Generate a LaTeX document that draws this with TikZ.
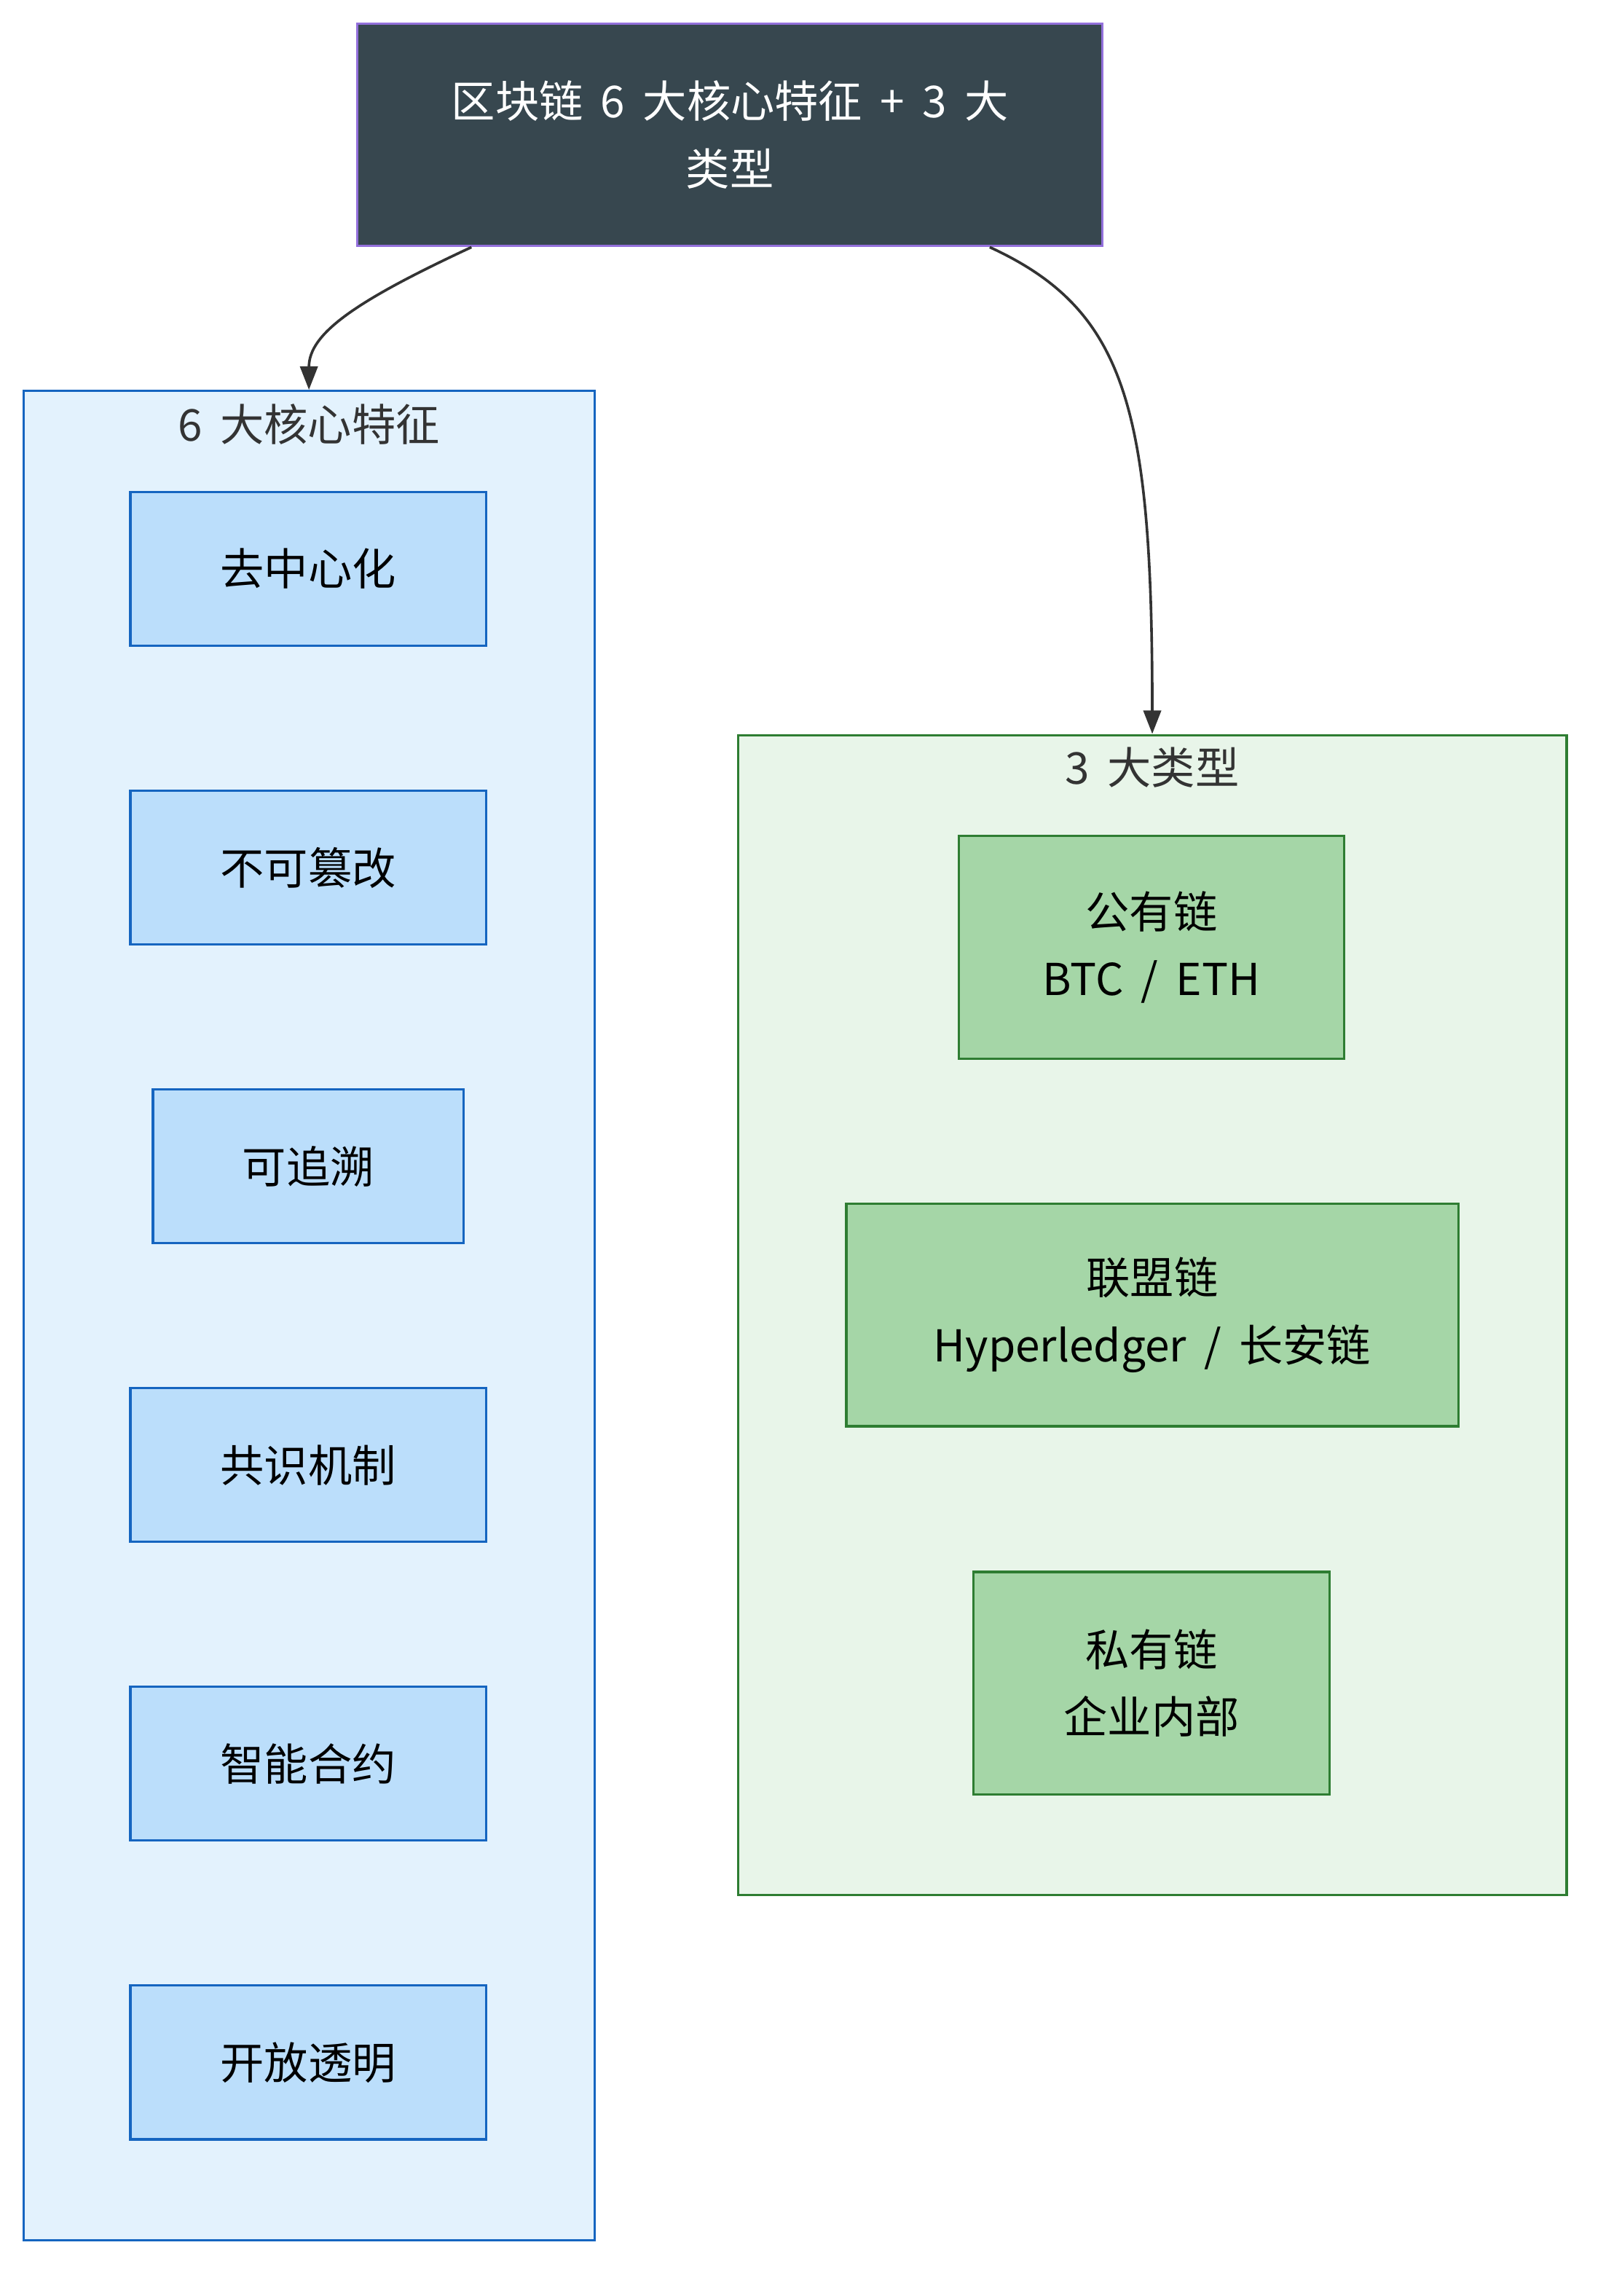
\documentclass[tikz,border=0pt]{standalone}
\usepackage{fontspec}
\setmainfont[WordSpace=1.8]{Noto Sans CJK SC}
\usetikzlibrary{arrows.meta}
\definecolor{topfill}{HTML}{37474F}
\definecolor{topdraw}{HTML}{9370DB}
\definecolor{lcfill}{HTML}{E3F2FD}
\definecolor{lnfill}{HTML}{BBDEFB}
\definecolor{lline}{HTML}{1565C0}
\definecolor{rcfill}{HTML}{E8F5E9}
\definecolor{rnfill}{HTML}{A5D6A7}
\definecolor{rline}{HTML}{2E7D32}
\definecolor{txt}{HTML}{333333}
\tikzset{
  topbox/.style={draw=topdraw, fill=topfill, line width=1.6pt, text=white, align=center, inner sep=0pt, font=\fontsize{30}{46}\selectfont},
  lclust/.style={draw=lline, fill=lcfill, line width=1.6pt, inner sep=0pt},
  rclust/.style={draw=rline, fill=rcfill, line width=1.6pt, inner sep=0pt},
  featbox/.style={draw=lline, fill=lnfill, line width=1.6pt, text=black, align=center, inner sep=0pt, minimum height=105pt, font=\fontsize{30}{46}\selectfont},
  typebox/.style={draw=rline, fill=rnfill, line width=1.6pt, text=black, align=center, inner sep=0pt, minimum height=152pt, font=\fontsize{30}{46}\selectfont},
  ctitle/.style={text=txt, inner sep=0pt, font=\fontsize{30}{36}\selectfont},
  conn/.style={draw=txt, line width=1.8pt, -{Triangle[length=16pt,width=12pt]}}
}
\begin{document}
\begin{tikzpicture}[x=1pt,y=-1pt]
\useasboundingbox (0,0) rectangle (1102,1568);
\node[topbox, minimum width=509pt, minimum height=152pt] (top) at (498.5,92) {区块链 6 大核心特征 + 3 大\\类型};
\node[lclust, minimum width=390pt, minimum height=1263pt] (lc) at (211,898.5) {};
\node[ctitle] (lct) at (211,290) {6 大核心特征};
\node[featbox, minimum width=243pt] (f1) at (210.5,388.5) {去中心化};
\node[featbox, minimum width=243pt] (f2) at (210.5,592.5) {不可篡改};
\node[featbox, minimum width=212pt] (f3) at (210.5,796.5) {可追溯};
\node[featbox, minimum width=243pt] (f4) at (210.5,1000.5) {共识机制};
\node[featbox, minimum width=243pt] (f5) at (210.5,1204.5) {智能合约};
\node[featbox, minimum width=243pt] (f6) at (210.5,1408.5) {开放透明};
\node[rclust, minimum width=566pt, minimum height=792pt] (rc) at (787,898) {};
\node[ctitle] (rct) at (787,524) {3 大类型};
\node[typebox, minimum width=263pt] (t1) at (786.5,647) {公有链\\BTC / ETH};
\node[typebox, minimum width=418pt] (t2) at (787,898) {联盟链\\Hyperledger / 长安链};
\node[typebox, minimum width=243pt] (t3) at (786.5,1149.5) {私有链\\企业内部};
\draw[conn] ([xshift=-176.5pt]top.south) .. controls (242,206) and (211,228) .. (lc.north);
\draw[conn] ([xshift=177.5pt]top.south) .. controls (770,212) and (787,280) .. (rc.north);
\end{tikzpicture}
\end{document}
